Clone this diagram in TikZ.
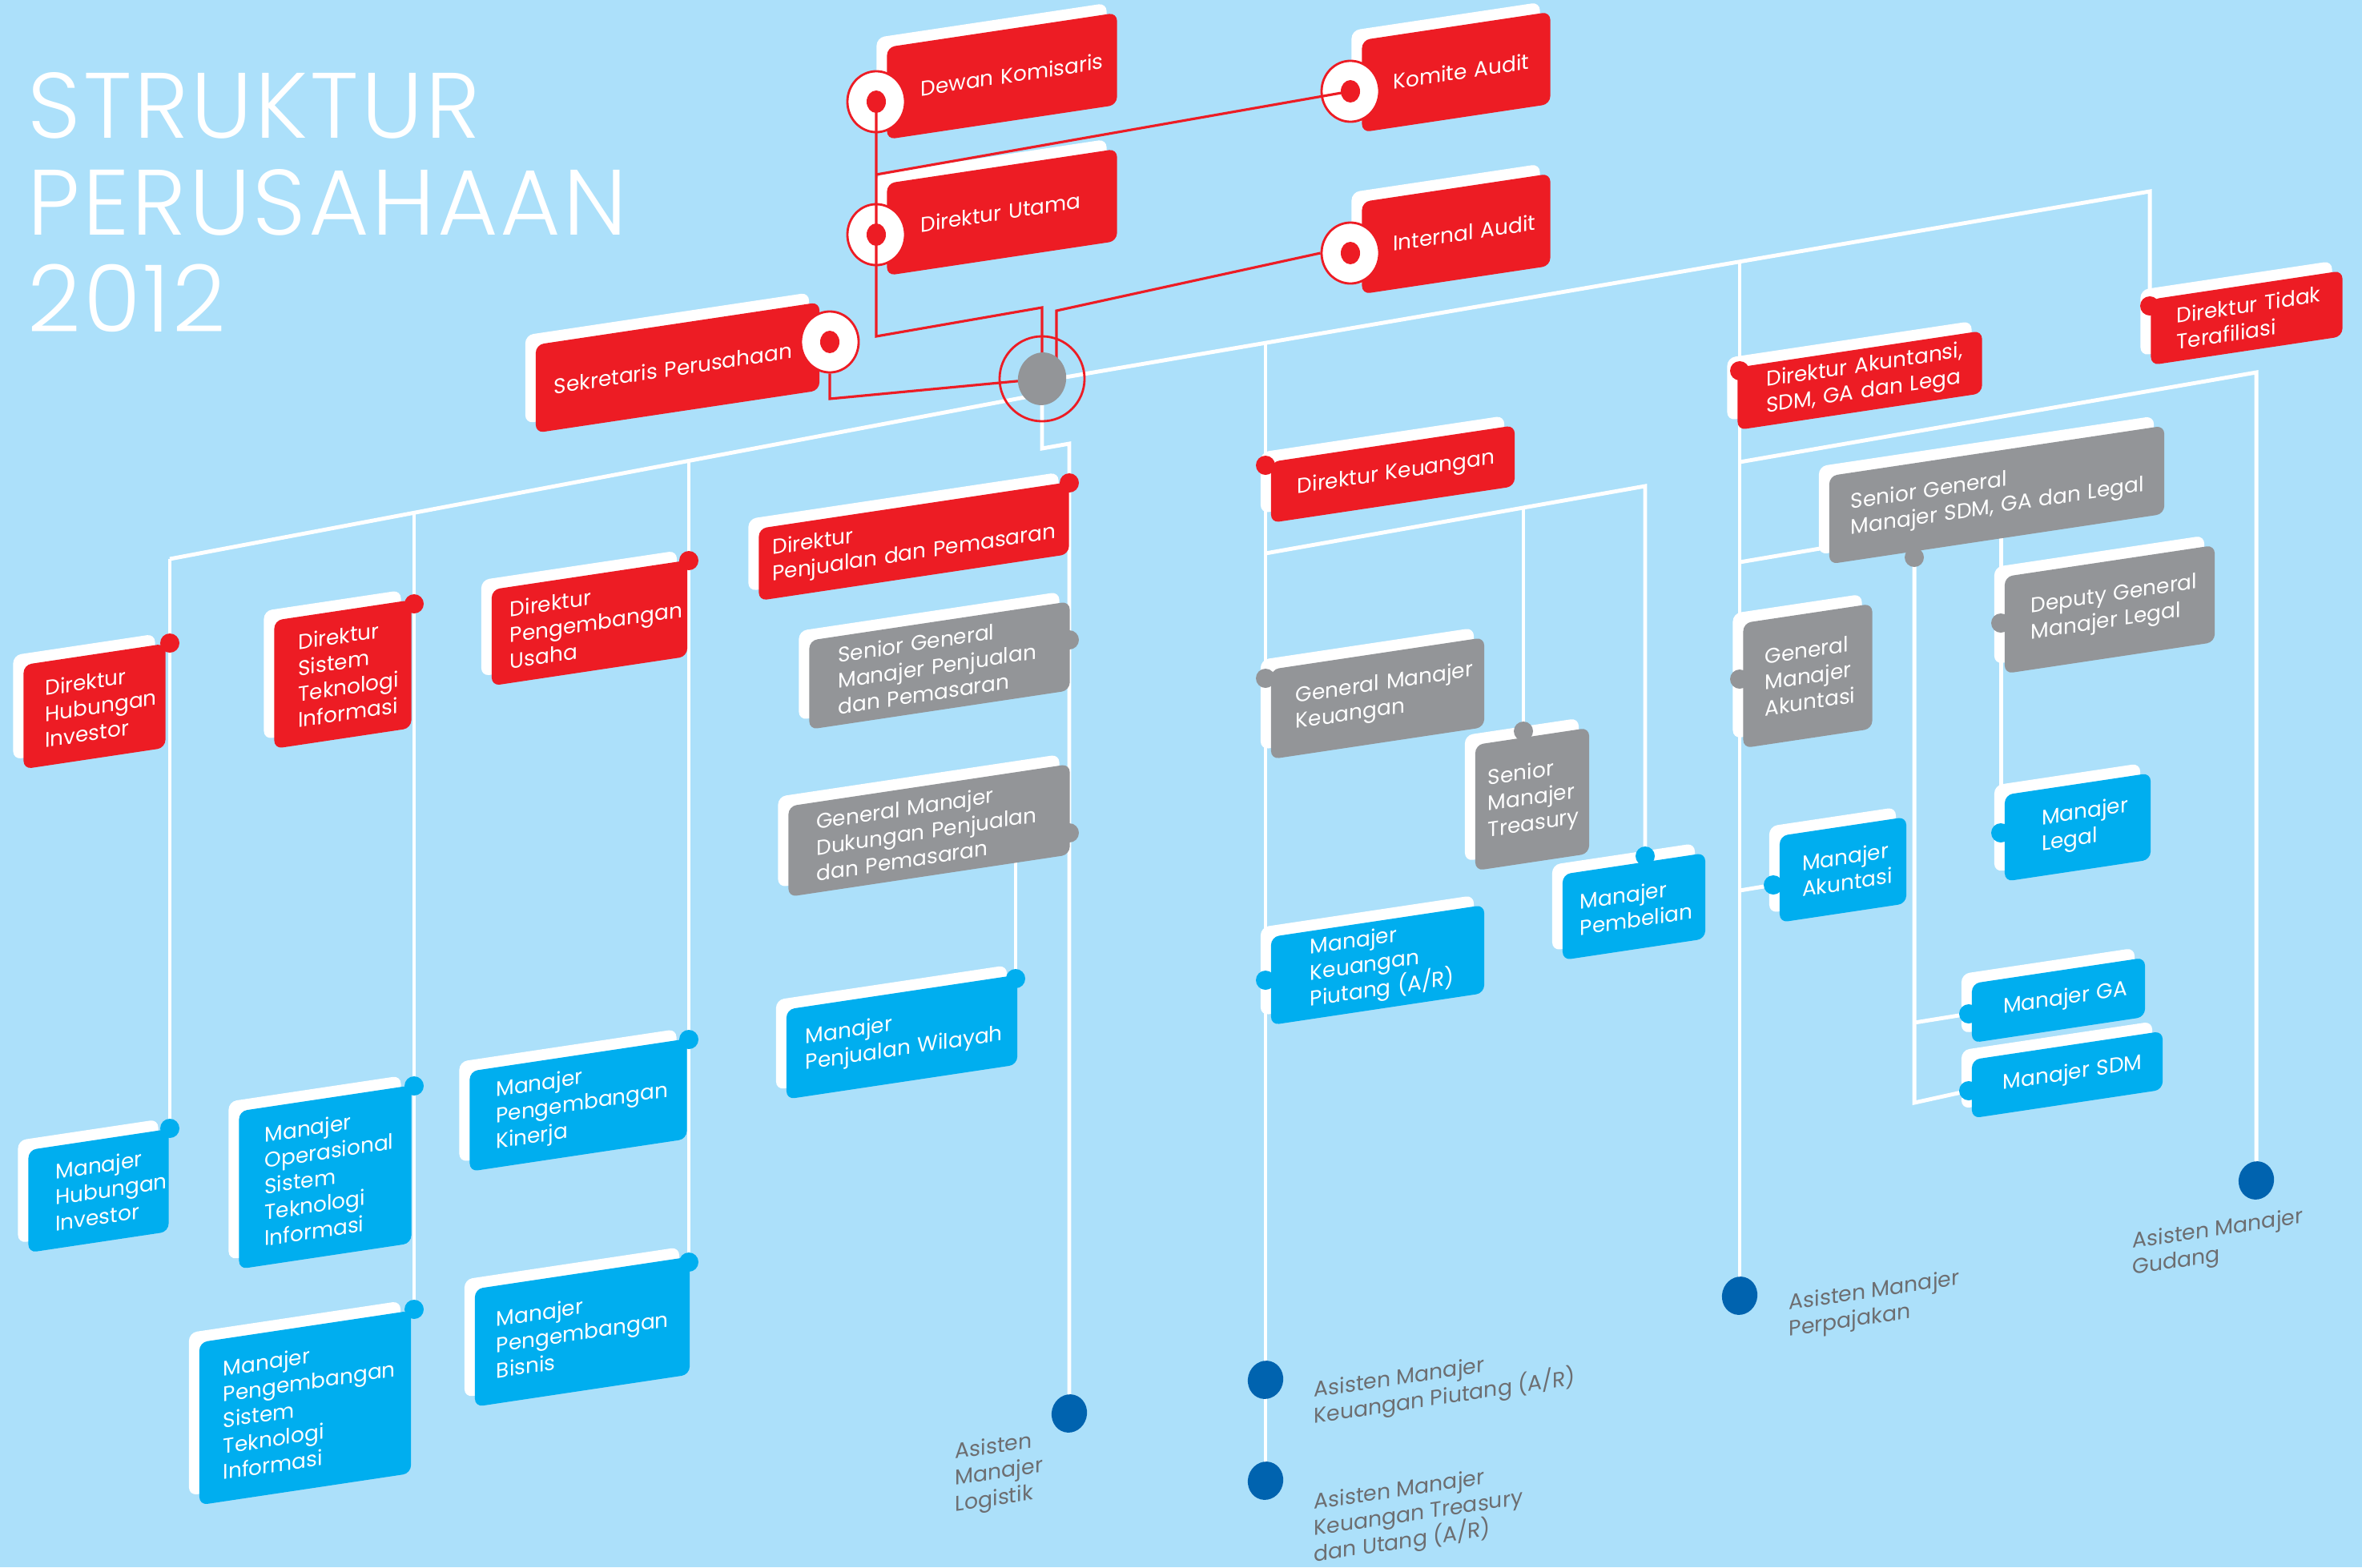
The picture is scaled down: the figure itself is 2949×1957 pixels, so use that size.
\documentclass[tikz,border=0pt]{standalone}
\usepackage{fontspec}
\setmainfont{Poppins}
\newfontfamily\titlefont{Poppins Light}[LetterSpace=2.7]
\usetikzlibrary{shapes.geometric,shadows}
\hyphenpenalty=10000
\exhyphenpenalty=10000

\definecolor{bgblue}{RGB}{172,224,250}
\definecolor{orgred}{RGB}{237,28,36}
\definecolor{orggray}{RGB}{147,149,152}
\definecolor{orgblue}{RGB}{0,174,239}
\definecolor{dotblue}{RGB}{0,99,175}
\definecolor{txtgray}{RGB}{109,110,113}

\begin{document}
\begin{tikzpicture}[x=0.01cm, y=-0.01cm,
  box/.style={yslant=0.15, rounded corners=0.1cm, text=white, align=left,
    font=\fontsize{7.5}{9.2}\selectfont, inner ysep=0pt,
    general shadow={fill=white, shadow xshift=-0.13cm, shadow yshift=0.12cm}},
  sz/.style n args={3}{minimum width=#1cm, minimum height=#2cm,
    inner xsep=#3cm, text width=#1cm-2*#3cm},
  wline/.style={draw=white, line width=1.4pt},
  rline/.style={draw=orgred, line width=0.9pt},
  ring/.style={ellipse, draw=orgred, fill=white, line width=0.8pt,
    minimum width=0.72cm, minimum height=0.76cm, inner sep=0pt},
  bigdot/.style={ellipse, fill=dotblue, minimum width=0.44cm,
    minimum height=0.48cm, inner sep=0pt, rotate=-15},
  asisten/.style={yslant=0.15, anchor=north west, align=left, inner sep=0pt,
    text=txtgray, font=\fontsize{7.6}{9.3}\selectfont}]

  \useasboundingbox (0,0) rectangle (2949,1957);
  \fill[bgblue] (0,0) rectangle (2949,1957);

  \node[anchor=north west, align=left, inner sep=0pt, text=white,
    font=\titlefont\fontsize{33}{34.4}\selectfont] (title) at (34,90)
    {STRUKTUR\\PERUSAHAAN\\2012};

  \coordinate (hub)  at (1301,473);
  \coordinate (spL)  at (212,698);
  \coordinate (spL2) at (517,640);
  \coordinate (spL3) at (860,575);
  \coordinate (spLe) at (1301,492);
  \coordinate (spR)  at (1301,476);
  \coordinate (spR1) at (1580,428);
  \coordinate (spR2) at (2172,327);
  \coordinate (spR3) at (2684,239);

  \coordinate (cDHI)   at (212,803);
  \coordinate (cMHI)   at (212,1409);
  \coordinate (cDSTI)  at (517,754);
  \coordinate (cMOSTI) at (517,1356);
  \coordinate (cMPSTI) at (517,1635);
  \coordinate (cDPU)   at (860,700);
  \coordinate (cMPK)   at (860,1298);
  \coordinate (cMPB)   at (860,1576);

  \coordinate (j1)    at (1301,560);
  \coordinate (j2)    at (1335,554);
  \coordinate (cDPP)  at (1335,603);
  \coordinate (cSGMP) at (1335,799);
  \coordinate (cGMD)  at (1335,1040);
  \coordinate (cLog)  at (1335,1765);
  \coordinate (jW)    at (1268,1070);
  \coordinate (cMPW)  at (1268,1222);

  \coordinate (cDK)  at (1580,581);
  \coordinate (jK1)  at (1580,691);
  \coordinate (cGMK) at (1580,847);
  \coordinate (cMKP) at (1580,1224);
  \coordinate (cPiu) at (1580,1723);
  \coordinate (cTre) at (1580,1849);
  \coordinate (jK2)  at (1902,634);
  \coordinate (cSMT) at (1902,913);
  \coordinate (jK3)  at (2054,607);
  \coordinate (cMP)  at (2054,1069);

  \coordinate (cDA)  at (2172,463);
  \coordinate (jA1)  at (2172,577);
  \coordinate (jA2)  at (2172,702);
  \coordinate (cGMA) at (2172,848);
  \coordinate (jA3)  at (2172,1112);
  \coordinate (cMA)  at (2214,1105);
  \coordinate (cPer) at (2172,1618);
  \coordinate (jA4)  at (2817,465);
  \coordinate (cGud) at (2817,1474);
  \coordinate (jS1)  at (2284,683);
  \coordinate (cSGM) at (2390,696);
  \coordinate (jS2)  at (2390,1277);
  \coordinate (cGA)  at (2458,1266);
  \coordinate (jS3)  at (2390,1377);
  \coordinate (cSDM) at (2458,1362);
  \coordinate (jL1)  at (2498,672);
  \coordinate (cDGM) at (2498,778);
  \coordinate (cML)  at (2498,1040);
  \coordinate (cDTT) at (2684,382);

  \draw[wline] (spL) -- (spLe);
  \draw[wline] (spR) -- (spR3) -- (cDTT);
  \draw[wline] (spL) -- (cMHI);
  \draw[wline] (spL2) -- (cMPSTI);
  \draw[wline] (spL3) -- (cMPB);
  \draw[wline] (hub) -- (j1) -- (j2) -- (cLog);
  \draw[wline] (jW) -- (cMPW);
  \draw[wline] (spR1) -- (cTre);
  \draw[wline] (jK1) -- (jK3) -- (cMP);
  \draw[wline] (jK2) -- (cSMT);
  \draw[wline] (spR2) -- (cPer);
  \draw[wline] (jA1) -- (jA4) -- (cGud);
  \draw[wline] (jA2) -- (jS1);
  \draw[wline] (jA3) -- (cMA);
  \draw[wline] (cSGM) -- (jS3) -- (cSDM);
  \draw[wline] (jS2) -- (cGA);
  \draw[wline] (jL1) -- (cML);

  \begin{scope}[every node/.style={box, fill=orgred}]
    \node[sz={2.87}{1.15}{0.42}] (dewan)  at (1251,95)  {Dewan~Komisaris};
    \node[sz={2.35}{1.15}{0.39}] (komite) at (1818,90)  {Komite~Audit};
    \node[sz={2.87}{1.15}{0.42}] (utama)  at (1251,265) {Direktur~Utama};
    \node[sz={2.35}{1.15}{0.39}] (ia)     at (1818,292) {Internal~Audit};
    \node[sz={3.54}{1.10}{0.23}] (sekr)   at (846,459)  {Sekretaris~Perusahaan};
    \node[sz={1.77}{1.30}{0.27}] (dhi)    at (118,882)  {Direktur\\Hubungan\\Investor};
    \node[sz={1.71}{1.60}{0.30}] (dsti)   at (428,842)  {Direktur\\Sistem\\Teknologi\\Informasi};
    \node[sz={2.44}{1.20}{0.23}] (dpu)    at (736,778)  {Direktur\\Pengembangan\\Usaha};
    \node[sz={3.87}{0.90}{0.17}] (dpp)    at (1141,676) {Direktur\\Penjualan~dan~Pemasaran};
    \node[sz={3.04}{0.76}{0.33}] (dk)     at (1739,592) {Direktur~Keuangan};
    \node[sz={3.05}{0.78}{0.36}] (da)     at (2322,475) {Direktur~Akuntansi,\\SDM,~GA~dan~Lega};
    \node[sz={2.39}{0.82}{0.32}] (dtt)    at (2805,397) {Direktur~Tidak\\Terafiliasi};
  \end{scope}

  \begin{scope}[every node/.style={box, fill=orggray}]
    \node[sz={3.25}{1.11}{0.36}] (sgmp) at (1173,831)  {Senior~General\\Manajer~Penjualan\\dan~Pemasaran};
    \node[sz={3.51}{1.13}{0.35}] (gmd)  at (1160,1037) {General~Manajer\\Dukungan~Penjualan\\dan~Pemasaran};
    \node[sz={2.66}{1.12}{0.31}] (gmk)  at (1720,872)  {General~Manajer\\Keuangan};
    \node[sz={1.42}{1.57}{0.16}] (smt)  at (1913,998)  {Senior\\Manajer\\Treasury};
    \node[sz={4.18}{1.10}{0.27}] (sgm)  at (2493,618)  {Senior~General\\Manajer~SDM,~GA~dan~Legal};
    \node[sz={2.62}{1.21}{0.33}] (dgm)  at (2634,761)  {Deputy~General\\Manajer~Legal};
    \node[sz={1.61}{1.56}{0.27}] (gma)  at (2257,844)  {General\\Manajer\\Akuntasi};
  \end{scope}

  \begin{scope}[every node/.style={box, fill=orgblue}]
    \node[sz={1.75}{1.28}{0.34}] (mhi)   at (123,1487)  {Manajer\\Hubungan\\Investor};
    \node[sz={2.15}{1.97}{0.32}] (mosti) at (406,1470)  {Manajer\\Operasional\\Sistem\\Teknologi\\Informasi};
    \node[sz={2.64}{2.03}{0.30}] (mpsti) at (381,1758)  {Manajer\\Pengembangan\\Sistem\\Teknologi\\Informasi};
    \node[sz={2.71}{1.25}{0.33}] (mpk)   at (722,1380)  {Manajer\\Pengembangan\\Kinerja};
    \node[sz={2.68}{1.47}{0.27}] (mpb)   at (727,1663)  {Manajer\\Pengembangan\\Bisnis};
    \node[sz={2.88}{1.12}{0.24}] (mpw)   at (1126,1295) {Manajer\\Penjualan~Wilayah};
    \node[sz={2.66}{1.10}{0.49}] (mkp)   at (1720,1205) {Manajer\\Keuangan\\Piutang~(A/R)};
    \node[sz={1.78}{1.07}{0.22}] (mp)    at (2040,1132) {Manajer\\Pembelian};
    \node[sz={1.58}{1.08}{0.28}] (ma)    at (2301,1086) {Manajer\\Akuntasi};
    \node[sz={1.82}{1.08}{0.46}] (ml)    at (2594,1033) {Manajer\\Legal};
    \node[sz={2.16}{0.74}{0.39}] (ga)    at (2570,1249) {Manajer~GA};
    \node[sz={2.38}{0.73}{0.39}] (sdm)   at (2581,1342) {Manajer~SDM};
  \end{scope}

  \fill[orgred] (cDHI) circle (0.12cm) (cDSTI) circle (0.12cm) (cDPU) circle (0.12cm)
    (cDPP) circle (0.12cm) (cDK) circle (0.12cm) (cDA) circle (0.12cm) (cDTT) circle (0.12cm);
  \fill[orggray] (cSGMP) circle (0.12cm) (cGMD) circle (0.12cm) (cGMK) circle (0.12cm)
    (cSMT) circle (0.12cm) (cSGM) circle (0.12cm) (cDGM) circle (0.12cm) (cGMA) circle (0.12cm);
  \fill[orgblue] (cMHI) circle (0.12cm) (cMOSTI) circle (0.12cm) (cMPSTI) circle (0.12cm)
    (cMPK) circle (0.12cm) (cMPB) circle (0.12cm) (cMPW) circle (0.12cm) (cMKP) circle (0.12cm)
    (cMP) circle (0.12cm) (cMA) circle (0.12cm) (cML) circle (0.12cm) (cGA) circle (0.12cm)
    (cSDM) circle (0.12cm);

  \node[ring] (rdewan)  at (1094,127) {};
  \node[ring] (rutama)  at (1094,293) {};
  \node[ring] (rkomite) at (1686,114) {};
  \node[ring] (ria)     at (1686,316) {};
  \node[ring] (rsekr)   at (1036,427) {};

  \coordinate (rd1) at (1094,218);
  \coordinate (rd2) at (1094,420);
  \coordinate (rd3) at (1301,384);
  \coordinate (ri1) at (1319,388);
  \coordinate (ri2) at (1319,460);
  \coordinate (rs1) at (1036,498);

  \draw[rline] (rdewan.center) -- (rd2) -- (rd3) -- (hub);
  \draw[rline] (rd1) -- (rkomite.center);
  \draw[rline] (ria.west) -- (ri1) -- (ri2);
  \draw[rline] (rsekr.south) -- (rs1) -- (hub);

  \fill[orgred] (rdewan) ellipse (0.12cm and 0.14cm) (rutama) ellipse (0.12cm and 0.14cm)
    (rkomite) ellipse (0.12cm and 0.14cm) (ria) ellipse (0.12cm and 0.14cm)
    (rsekr) ellipse (0.12cm and 0.14cm);

  \node[circle, draw=orgred, line width=0.8pt, minimum size=1.06cm, inner sep=0pt] (hubring) at (hub) {};
  \node[ellipse, fill=orggray, minimum width=0.6cm, minimum height=0.66cm, inner sep=0pt, rotate=-12] (hubdot) at (hub) {};

  \node[bigdot] (dLog) at (cLog) {};
  \node[bigdot] (dPiu) at (cPiu) {};
  \node[bigdot] (dTre) at (cTre) {};
  \node[bigdot] (dPer) at (cPer) {};
  \node[bigdot] (dGud) at (cGud) {};

  \node[asisten] (aLog) at (1192,1801) {Asisten\\Manajer\\Logistik};
  \node[asisten] (aPiu) at (1640,1724) {Asisten~Manajer\\Keuangan~Piutang~(A/R)};
  \node[asisten] (aTre) at (1640,1864) {Asisten~Manajer\\Keuangan~Treasury\\dan~Utang~(A/R)};
  \node[asisten] (aPer) at (2233,1615) {Asisten~Manajer\\Perpajakan};
  \node[asisten] (aGud) at (2662,1538) {Asisten~Manajer\\Gudang};

\end{tikzpicture}
\end{document}
